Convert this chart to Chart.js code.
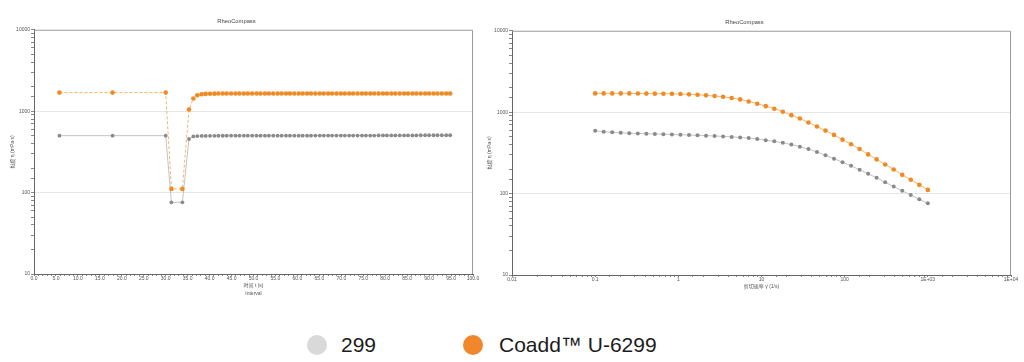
<!DOCTYPE html>
<html><head><meta charset="utf-8">
<script src="https://cdn.jsdelivr.net/npm/chart.js@4.4.1/dist/chart.umd.min.js"></script>
<style>
html,body{margin:0;padding:0;background:#fff;width:1024px;height:362px;overflow:hidden;}
#c1{position:absolute;left:0;top:0;}
#c2{position:absolute;left:478px;top:0;}
.lg{position:absolute;top:334px;font-family:"Liberation Sans",Arial,sans-serif;font-size:21px;line-height:21px;color:#1c1c1c;white-space:nowrap}
.dot{position:absolute;top:335px;width:20px;height:20px;border-radius:50%}
</style></head><body>
<canvas id="c1" width="484" height="300"></canvas>
<canvas id="c2" width="546" height="300"></canvas>
<div class="dot" style="left:307px;background:#d9d9d9"></div>
<div class="lg" id="lg1" style="left:341px"></div>
<div class="dot" style="left:463px;background:#f0872c"></div>
<div class="lg" id="lg2" style="left:499px"></div>
<script>
// ---- data ----
const seriesNames = ['299', 'Coadd™ U-6299'];
const chartTitle = 'RheoCompass';
const yAxisTitle = '黏度 η (mPa·s)';
const timeAxisTitle = ['时间 t (s)', 'Interval'];
const rateAxisTitle = '剪切速率 γ̇ (1/s)';
const yTickLabels = ['10', '100', '1000', '10000'];
const rateTickLabels = ['0.01', '0.1', '1', '10', '100', '1E+03', '1E+04'];

// Chart 1: three-interval thixotropy test (time in s)
const timeS = [5.8, 17.9, 30.0, 31.3, 33.8,
  35.3, 36.3, 37.2, 38.2, 39.1, 40.1, 41.1, 42.0, 43.0, 43.9,
  44.9, 45.9, 46.8, 47.8, 48.7, 49.7, 50.7, 51.6, 52.6, 53.5,
  54.5, 55.5, 56.4, 57.4, 58.3, 59.3, 60.3, 61.2, 62.2, 63.1,
  64.1, 65.1, 66.0, 67.0, 67.9, 68.9, 69.9, 70.8, 71.8, 72.7,
  73.7, 74.7, 75.6, 76.6, 77.5, 78.5, 79.5, 80.4, 81.4, 82.3,
  83.3, 84.3, 85.2, 86.2, 87.1, 88.1, 89.1, 90.0, 91.0, 91.9,
  92.9, 93.9, 94.8];
const visc299Time = [500, 500, 500, 76, 76,
  455, 490, 494, 496, 497, 498, 498, 499, 499, 500,
  500, 500, 500, 500, 500, 500, 500, 500, 500, 500,
  500, 500, 500, 500, 500, 500, 500, 500, 500, 500,
  502, 502, 502, 502, 502, 502, 502, 502, 502, 502,
  502, 502, 502, 502, 502, 504, 504, 504, 504, 504,
  504, 504, 504, 504, 504, 506, 506, 506, 506, 506,
  506, 506, 506];
const viscCoaddTime = [1690, 1690, 1690, 111, 111,
  1050, 1430, 1570, 1615, 1630, 1638, 1642, 1645, 1648, 1650,
  1650, 1650, 1650, 1650, 1650, 1650, 1650, 1650, 1650, 1650,
  1650, 1650, 1650, 1650, 1650, 1650, 1650, 1650, 1650, 1650,
  1650, 1650, 1650, 1650, 1650, 1650, 1650, 1650, 1650, 1650,
  1650, 1650, 1650, 1650, 1650, 1650, 1650, 1650, 1650, 1650,
  1650, 1650, 1650, 1650, 1650, 1650, 1650, 1650, 1650, 1650,
  1650, 1650, 1650];

// Chart 2: flow curve (shear rate in 1/s)
const rateS = [0.1, 0.1266, 0.1603, 0.203, 0.2572, 0.3257, 0.4125, 0.5223, 0.6615, 0.8377,
  1.061, 1.344, 1.701, 2.154, 2.728, 3.455, 4.375, 5.541, 7.017, 8.886,
  11.25, 14.25, 18.05, 22.86, 28.94, 36.65, 46.42, 58.78, 74.44, 94.27,
  119.4, 151.2, 191.5, 242.4, 307, 388.8, 492.4, 623.5, 789.6, 1000];
const visc299Rate = [590, 575, 565, 558, 552, 548, 544, 540, 536, 532,
  528, 524, 520, 515, 510, 504, 497, 490, 481, 468,
  453, 438, 420, 400, 377, 352, 325, 296, 268, 243,
  219, 196, 175, 156, 138, 122, 108, 96, 85, 76];
const viscCoaddRate = [1700, 1700, 1700, 1700, 1700, 1695, 1690, 1688, 1685, 1680,
  1670, 1655, 1635, 1610, 1580, 1545, 1495, 1435, 1355, 1270,
  1186, 1102, 1011, 919, 836, 746, 666, 594, 526, 460,
  403, 353, 303, 263, 228, 198, 170, 148, 128, 111];

// ---- styling ----
const FONT = '"Liberation Sans","Noto Sans CJK SC",Arial,sans-serif';
const GRAY_PT = '#8a8a8a', GRAY_LN = '#c4c4c4';
const ORG_PT = '#ef8b22', ORG_LN = '#f5b36c';

document.getElementById('lg1').textContent = seriesNames[0];
document.getElementById('lg2').textContent = seriesNames[1];

const framePlugin = {
  id: 'frame',
  beforeDatasetsDraw(chart) {
    const {ctx, chartArea: a} = chart;
    ctx.save();
    ctx.strokeStyle = '#9a9a9a';
    ctx.lineWidth = 1;
    ctx.beginPath();
    ctx.moveTo(a.left, a.top + 0.5);
    ctx.lineTo(a.right - 0.5, a.top + 0.5);
    ctx.lineTo(a.right - 0.5, a.bottom);
    ctx.stroke();
    ctx.restore();
  }
};

function isDecade(v) { const e = Math.log10(v); return Math.abs(e - Math.round(e)) < 1e-9; }

function yScale(titlePad) {
  return {
    type: 'logarithmic', min: 10, max: 10000,
    afterFit(s) { s.width = 34; },
    title: {display: true, text: yAxisTitle, font: {size: 5, family: FONT}, color: '#555', padding: {top: titlePad, bottom: 0}},
    ticks: {autoSkip: false, font: {size: 5, family: FONT}, color: '#555', padding: 1,
      callback(v) { return isDecade(v) ? yTickLabels[Math.round(Math.log10(v)) - 1] : ''; }},
    grid: {color: c => (c.tick && (c.tick.value === 100 || c.tick.value === 1000)) ? '#e6e6e6' : 'rgba(0,0,0,0)',
      tickColor: '#888', tickLength: 3, lineWidth: 1},
    border: {display: true, color: '#666'}
  };
}

function titleOpts(pTop) {
  return {display: true, text: chartTitle, font: {size: 5.8, family: FONT, weight: 'normal'}, color: '#444',
    padding: {top: pTop, bottom: 4.4}};
}

function ds(label, xs, ys, ptColor, lnColor, r, dash) {
  return {label, data: xs.map((x, i) => ({x, y: ys[i]})), borderColor: lnColor, borderWidth: 1,
    borderDash: dash, pointRadius: r, pointBackgroundColor: ptColor, pointBorderWidth: 0, tension: 0};
}

new Chart(document.getElementById('c1'), {
  type: 'line',
  data: {datasets: [
    ds(seriesNames[1], timeS, viscCoaddTime, ORG_PT, ORG_LN, 2.3, [3, 2]),
    ds(seriesNames[0], timeS, visc299Time, GRAY_PT, GRAY_LN, 1.9, [])
  ]},
  options: {
    responsive: false, animation: false, devicePixelRatio: 1,
    layout: {padding: {left: 0, right: 11, top: 0, bottom: 0}},
    plugins: {legend: {display: false}, tooltip: {enabled: false}, title: titleOpts(18.4)},
    scales: {
      x: {type: 'linear', min: 0, max: 100,
        afterFit(s) { s.height = 26; s.paddingLeft = 0; s.paddingRight = 0; },
        ticks: {stepSize: 1, autoSkip: false, maxRotation: 0, minRotation: 0, font: {size: 5, family: FONT}, color: '#555', padding: 0,
          callback(v) { return (Math.round(v) % 5 === 0) ? Number(v).toFixed(1) : ''; }},
        grid: {color: 'rgba(0,0,0,0)', tickColor: '#888', tickLength: 2},
        border: {display: true, color: '#666'},
        title: {display: true, text: timeAxisTitle, font: {size: 5, family: FONT, lineHeight: 1.6}, color: '#555', padding: {top: 0, bottom: 2}}
      },
      y: yScale(9.4)
    }
  },
  plugins: [framePlugin]
});

new Chart(document.getElementById('c2'), {
  type: 'line',
  data: {datasets: [
    ds(seriesNames[1], rateS, viscCoaddRate, ORG_PT, ORG_LN, 2.3, []),
    ds(seriesNames[0], rateS, visc299Rate, GRAY_PT, GRAY_LN, 2.0, [])
  ]},
  options: {
    responsive: false, animation: false, devicePixelRatio: 1,
    layout: {padding: {left: 0, right: 13, top: 0, bottom: 0}},
    plugins: {legend: {display: false}, tooltip: {enabled: false}, title: titleOpts(19.4)},
    scales: {
      x: {type: 'logarithmic', min: 0.01, max: 10000,
        afterFit(s) { s.height = 25; s.paddingLeft = 0; s.paddingRight = 0; },
        ticks: {autoSkip: false, maxRotation: 0, minRotation: 0, font: {size: 5, family: FONT}, color: '#555', padding: 0,
          callback(v) { return isDecade(v) ? rateTickLabels[Math.round(Math.log10(v)) + 2] : ''; }},
        grid: {color: 'rgba(0,0,0,0)', tickColor: '#888', tickLength: 2},
        border: {display: true, color: '#666'},
        title: {display: true, text: rateAxisTitle, font: {size: 5, family: FONT}, color: '#555', padding: {top: 0, bottom: 10.3}}
      },
      y: yScale(8.4)
    }
  },
  plugins: [framePlugin]
});
</script>
</body></html>
